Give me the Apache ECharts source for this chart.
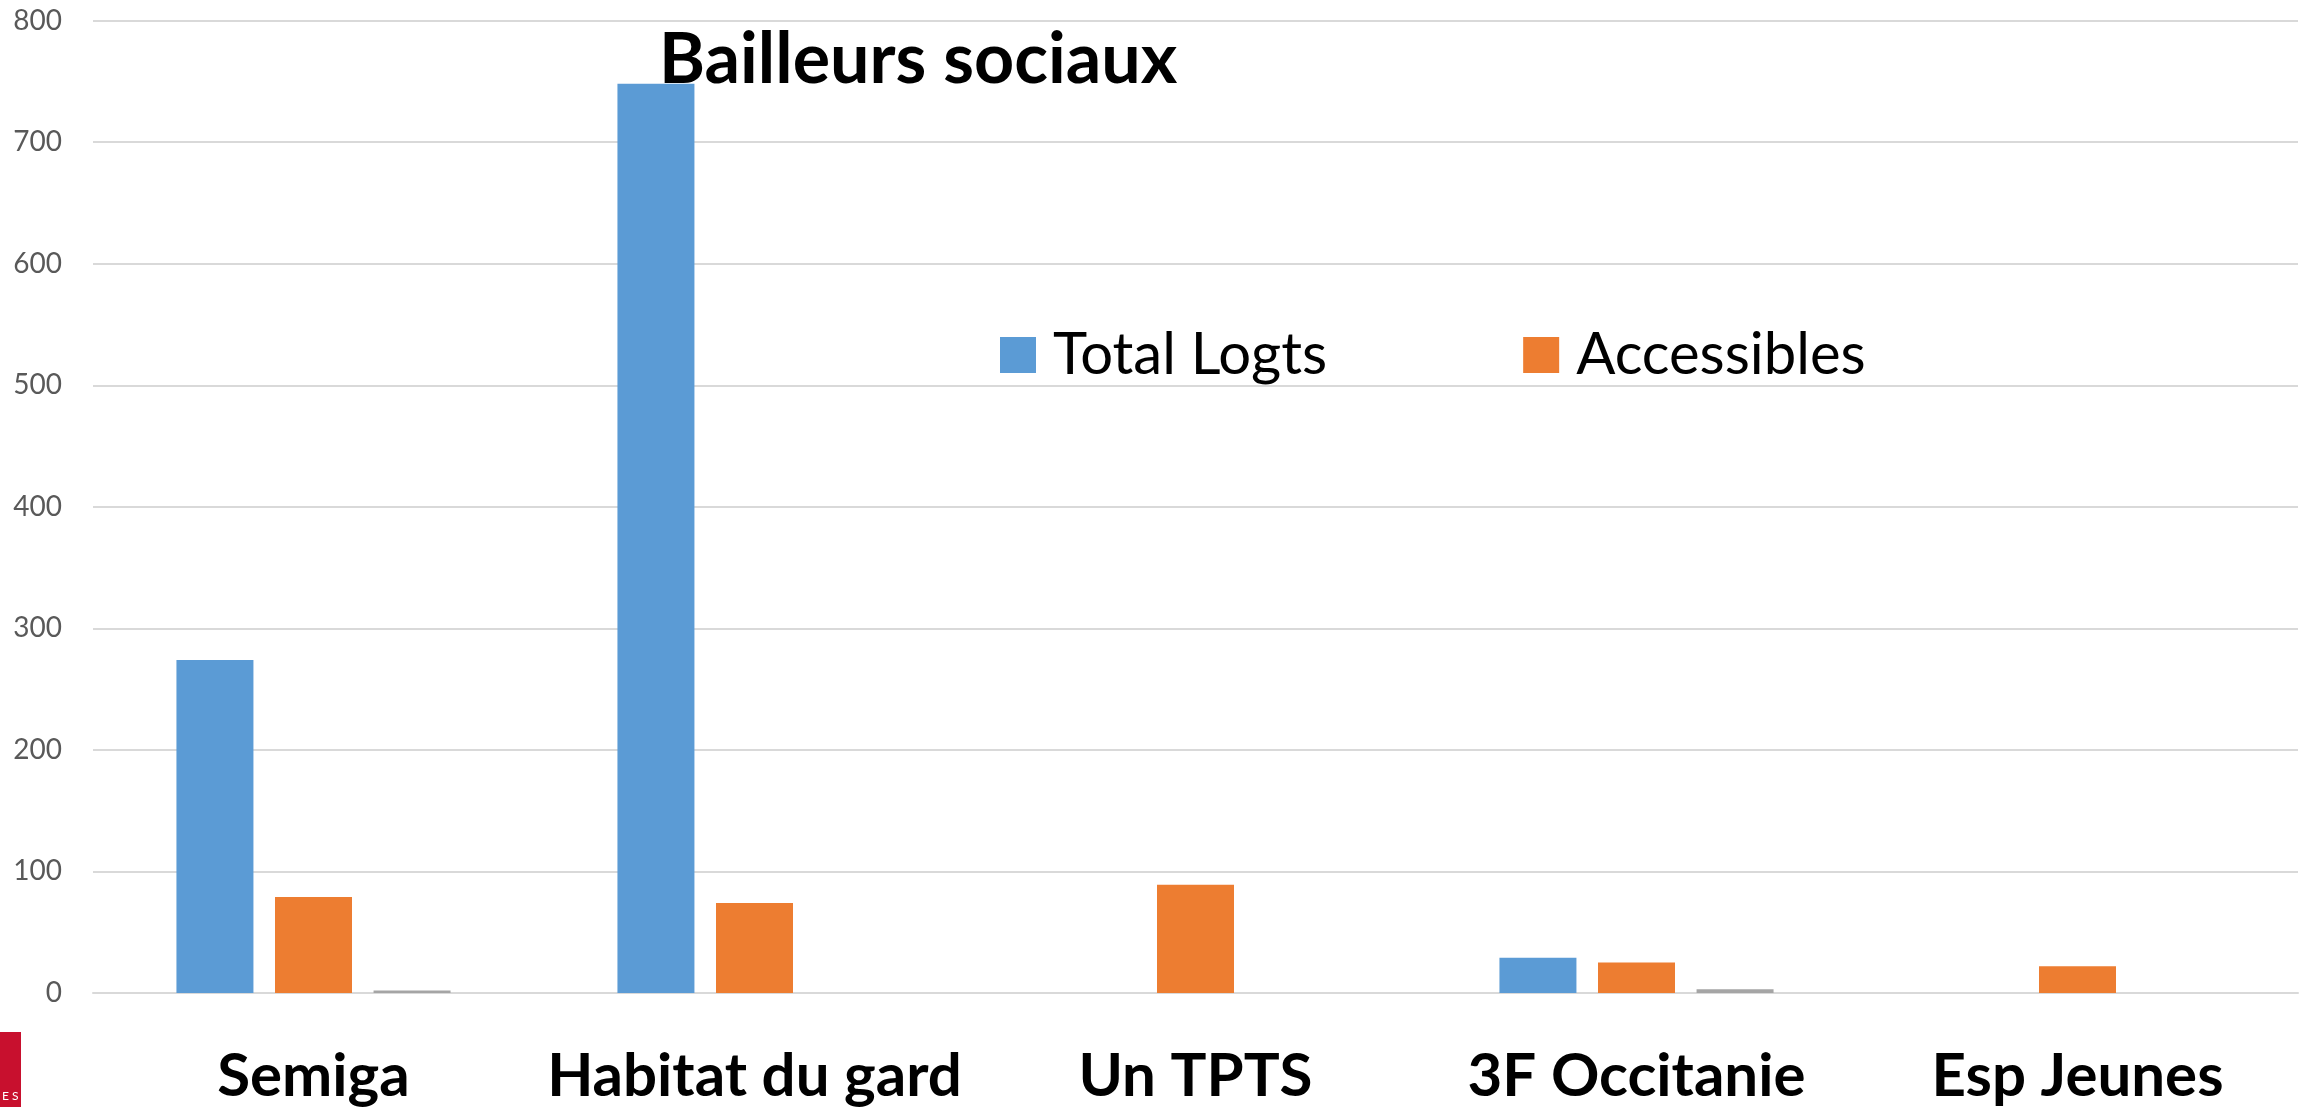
<!DOCTYPE html>
<html>
<head>
<meta charset="utf-8">
<title>Bailleurs sociaux</title>
<script src="https://cdn.jsdelivr.net/npm/echarts@6/dist/echarts.min.js"></script>
<style>
  html, body { margin: 0; padding: 0; background: #fff; }
  #chart { width: 2313px; height: 1107px; }
</style>
</head>
<body>
<div id="chart"></div>
<script>
// chart data
const categories = ['Semiga', 'Habitat du gard', 'Un TPTS', '3F Occitanie', 'Esp Jeunes'];
const totalLogts = [274, 748, null, 29, null];
const accessibles = [79, 74, 89, 25, 22];
const serie3 = [2, null, null, 3, null];
const yTicks = { min: 0, max: 800, interval: 100 };

const chart = echarts.init(document.getElementById('chart'));

const option = {
    animation: false,
    backgroundColor: '#fff',
    title: {
        text: 'Bailleurs sociaux',
        left: 654,
        top: 20,
        textStyle: {
            fontFamily: 'Lato',
            fontWeight: 'bold',
            fontSize: 70,
            color: '#000'
        },
        z: 10
    },
    legend: {
        data: ['Total Logts', 'Accessibles'],
        left: 995,
        top: 321,
        icon: 'rect',
        itemWidth: 36,
        itemHeight: 36,
        itemGap: 196,
        textStyle: {
            fontFamily: 'Lato',
            fontSize: 58,
            color: '#000',
            padding: [0, 0, 0, 12]
        }
    },
    grid: {
        left: 93,
        right: 15,
        top: 20.6,
        bottom: 112.7,
        containLabel: false
    },
    xAxis: {
        type: 'category',
        data: categories,
        axisLine: { lineStyle: { color: '#D9D9D9', width: 2 } },
        axisTick: { show: false },
        axisLabel: {
            interval: 0,
            margin: 54,
            fontFamily: 'Lato',
            fontWeight: 'bold',
            fontSize: 60,
            color: '#000'
        }
    },
    yAxis: {
        type: 'value',
        min: yTicks.min,
        max: yTicks.max,
        interval: yTicks.interval,
        axisLine: { show: false },
        axisTick: { show: false },
        splitLine: { lineStyle: { color: '#D9D9D9', width: 2 } },
        axisLabel: {
            margin: 31,
            fontFamily: 'Lato',
            fontSize: 28,
            color: '#595959'
        }
    },
    series: [
        {
            name: 'Total Logts',
            type: 'bar',
            barWidth: 77,
            barGap: '28%',
            itemStyle: { color: '#5B9BD5' },
            data: totalLogts
        },
        {
            name: 'Accessibles',
            type: 'bar',
            barWidth: 77,
            barGap: '28%',
            itemStyle: { color: '#ED7D31' },
            data: accessibles
        },
        {
            name: 'Série 3',
            type: 'bar',
            barWidth: 77,
            barGap: '28%',
            itemStyle: { color: '#A5A5A5' },
            data: serie3
        }
    ],
    graphic: [
        {
            // cropped logo in the bottom-left corner
            type: 'rect',
            left: 0,
            top: 1032,
            shape: { width: 21, height: 75 },
            style: { fill: '#C8102E' }
        },
        {
            type: 'text',
            left: 2,
            top: 1090,
            style: { text: 'E S', fill: '#fff', fontSize: 12, fontFamily: 'Lato' }
        }
    ]
};

chart.setOption(option);
window.addEventListener('resize', () => chart.resize());
</script>
</body>
</html>
